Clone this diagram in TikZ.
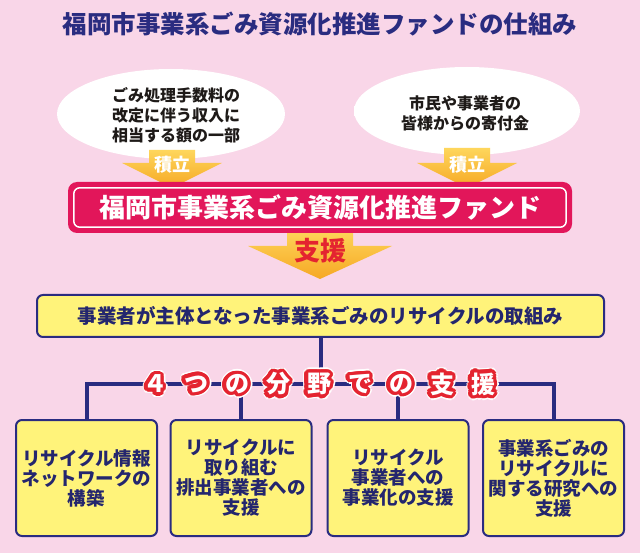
\documentclass[tikz,border=0pt]{standalone}
\usepackage{fontspec}
\setmainfont{Noto Sans CJK JP}
\IfFontExistsTF{Noto Sans CJK JP Black}
  {\newfontfamily\heavy{Noto Sans CJK JP Black}}
  {\newcommand{\heavy}{\bfseries}}
\usetikzlibrary{shapes.geometric}
\definecolor{pinkbg}{RGB}{249,214,232}
\definecolor{navy}{RGB}{42,44,128}
\definecolor{navytxt}{RGB}{36,38,110}
\definecolor{crimson}{RGB}{226,22,90}
\definecolor{arrtop}{RGB}{254,214,92}
\definecolor{arrbot}{RGB}{246,168,36}
\definecolor{redtxt}{RGB}{228,36,48}
\definecolor{yboxfill}{RGB}{255,243,122}
\definecolor{darktxt}{RGB}{30,26,24}
\pgfdeclareradialshading{glow}{\pgfpointorigin}{color(0bp)=(white); color(36bp)=(white); color(50bp)=(pinkbg); color(100bp)=(pinkbg)}
\newcommand{\fs}[1]{\fontsize{#1}{#1}\selectfont}
\begin{document}
\begin{tikzpicture}[x=1pt,y=-1pt,
  titletxt/.style={text=navy,font=\heavy\fs{24.5},inner sep=0pt},
  glowell/.style={ellipse,shading=glow,inner sep=0pt},
  etxt/.style={align=center,text=darktxt,inner sep=0pt,font=\heavy\fontsize{16}{20}\selectfont},
  arrowshade/.style={top color=arrtop,bottom color=arrbot},
  arrtxt/.style={text=white,font=\heavy\fs{18},inner sep=0pt},
  fundbox/.style={fill=crimson,rounded corners=9pt,minimum width=504pt,minimum height=51pt,
    text=white,font=\heavy\fs{26},inner sep=0pt},
  shientxt/.style={text=redtxt,font=\heavy\fs{26},inner sep=0pt},
  ybox/.style={draw=navy,line width=2pt,fill=yboxfill,rounded corners=6pt,inner sep=0pt,
    align=center,text=navytxt,font=\heavy\fontsize{18.5}{20}\selectfont},
  conn/.style={draw=navy,line width=4pt},
  outtxt/.style={font=\heavy\fs{24},inner sep=0pt}
]
\useasboundingbox (0,0) rectangle (640,553);
\fill[pinkbg] (0,0) rectangle (640,553);

\node[titletxt] (title) at (320,24) {福岡市事業系ごみ資源化推進ファンドの仕組み};

\node[glowell,minimum width=228pt,minimum height=90pt] (ellL) at (171,114) {};
\node[etxt] (tL) at (176,115) {ごみ処理手数料の\\改定に伴う収入に\\相当する額の一部};
\node[glowell,minimum width=226pt,minimum height=88pt] (ellR) at (467,111) {};
\node[etxt] (tR) at (465,113) {市民や事業者の\\皆様からの寄付金};

% 積立 arrows
\shade[arrowshade] (149,150) -- (195,150) -- (195,163) -- (222,163) -- (172,188) -- (122,163) -- (149,163) -- cycle;
\node[arrtxt] (tsumiL) at (172,165) {積立};
\shade[arrowshade] (444,148) -- (490,148) -- (490,163) -- (517,163) -- (467,188) -- (417,163) -- (444,163) -- cycle;
\node[arrtxt] (tsumiR) at (467,165) {積立};

% 支援 arrow
\shade[arrowshade] (287,228) -- (353,228) -- (353,246) -- (392,246) -- (320,279) -- (248,246) -- (287,246) -- cycle;
\node[shientxt] (shien) at (320,251) {支援};

% fund box
\node[fundbox] (fund) at (320,207.5) {福岡市事業系ごみ資源化推進ファンド};
\draw[white,line width=1.5pt,rounded corners=6pt]
  ([xshift=6pt,yshift=-6pt]fund.north west) rectangle ([xshift=-6pt,yshift=6pt]fund.south east);

% main box
\node[ybox,minimum width=567pt,minimum height=42pt,font=\heavy\fs{19.5}] (main) at (320.5,316)
  {事業者が主体となった事業系ごみのリサイクルの取組み};

% bottom boxes
\node[ybox,minimum width=141pt,minimum height=116pt] (b1) at (86.5,478)
  {リサイクル情報\\ネットワークの\\構築};
\node[ybox,minimum width=141pt,minimum height=116pt] (b2) at (241,478)
  {リサイクルに\\取り組む\\排出事業者への\\支援};
\node[ybox,minimum width=141pt,minimum height=116pt] (b3) at (398,478)
  {リサイクル\\事業者への\\事業化の支援};
\node[ybox,minimum width=141pt,minimum height=116pt] (b4) at (553.5,478)
  {事業系ごみの\\リサイクルに\\関する研究への\\支援};

% connectors
\coordinate (j) at (319,384);
\draw[conn] (main.south) -- (main.south |- j);
\draw[conn] (b1.north) -- (b1.north |- j) -- (b4.north |- j) -- (b4.north);
\draw[conn] (b2.north) -- (b2.north |- j);
\draw[conn] (b3.north) -- (b3.north |- j);

% 4つの分野での支援 (white letters, red outline, white halo)
\foreach \c [count=\i] in {４,つ,の,分,野,で,の,支,援}{
  \pgfmathsetmacro{\cx}{155+41*(\i-1)}
  \foreach \a in {0,20,...,340}{
    \node[outtxt,text=white] at ({\cx+5*cos(\a)},{384+5*sin(\a)}) {\c};
  }
  \foreach \a in {0,20,...,340}{
    \node[outtxt,text=redtxt] at ({\cx+3.4*cos(\a)},{384+3.4*sin(\a)}) {\c};
  }
  \node[outtxt,text=white] (f\i) at (\cx,384) {\c};
}
\end{tikzpicture}
\end{document}
